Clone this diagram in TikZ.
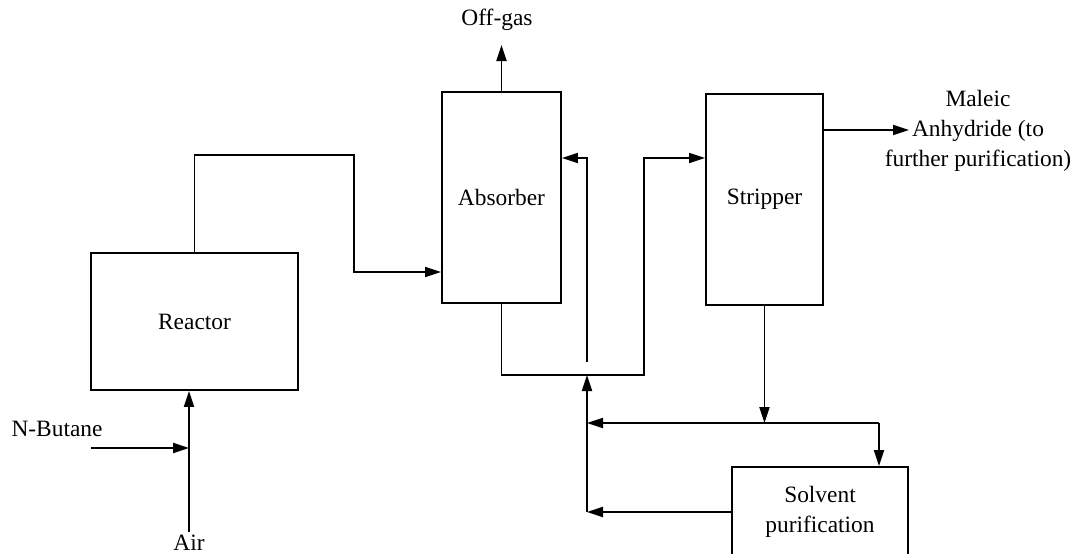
\documentclass[tikz,border=0pt]{standalone}
\usepackage{fontspec}
\setmainfont{Liberation Serif}
\usetikzlibrary{arrows.meta,calc}
\tikzset{
  box/.style={draw, line width=0.9pt, inner sep=0pt, font=\fontsize{11.7}{15}\selectfont},
  lbl/.style={inner sep=0pt, align=center, font=\fontsize{11.7}{15}\selectfont},
  flow/.style={line width=0.9pt, -{Triangle[length=8pt,width=5pt]}},
  plain/.style={line width=0.9pt}
}
\begin{document}
\begin{tikzpicture}[x=0.5pt,y=-0.5pt]
\clip (0,0) rectangle (1072,553);
% boxes
\node[box, minimum width=103.5pt, minimum height=68.5pt] (reactor) at (194.5,321.5) {Reactor};
\node[box, minimum width=59.5pt, minimum height=105.5pt] (absorber) at (501.5,197.5) {Absorber};
\node[box, minimum width=58.5pt, minimum height=105.5pt] (stripper) at (764.5,199.5) {Stripper};
\node[box, minimum width=88pt, minimum height=45pt, align=center] (solv) at (820,512) {Solvent\\purification};
% labels
\node[lbl] (offgas) at (497,20) {Off-gas};
\node[lbl] (maleic) at (978,131) {Maleic\\Anhydride (to\\further purification)};
\node[lbl] (nbutane) at (57,429) {N-Butane};
\node[lbl] (air) at (189,543) {Air};
% coordinates
\coordinate (og) at (501.5,45);
\coordinate (c1) at (354,155);
\coordinate (y272) at (0,272);
\coordinate (c3) at (644,375);
\coordinate (y158) at (0,158);
\coordinate (mt) at (909,130);
\coordinate (split) at (763,423);
\coordinate (sr) at (879,423);
\coordinate (ml) at (587,423);
\coordinate (rb) at (587,512);
\coordinate (rj) at (587,375);
\coordinate (rt) at (587,362);
\coordinate (nb0) at (91,448);
\coordinate (nb1) at (189,448);
\coordinate (air0) at (189,532);
% connectors
\draw[flow] (absorber.north) -- (og);
\draw[flow] (reactor.north) |- (c1) |- (absorber.west |- y272);
\draw[flow] (absorber.south) |- (c3) |- (stripper.west |- y158);
\draw[flow] (stripper.east |- mt) -- (mt);
\draw[flow] (stripper.south) -- (stripper.south |- split);
\draw[flow] (sr) -- (ml);
\draw[flow] (sr) -- (solv.north -| sr);
\draw[flow] (solv.west) -- (rb);
\draw[flow] (rb) -- (rj);
\draw[flow] (rt) |- (absorber.east |- y158);
\draw[flow] (nb0) -- (nb1);
\draw[flow] (air0) -- (reactor.south -| air0);
\end{tikzpicture}
\end{document}
